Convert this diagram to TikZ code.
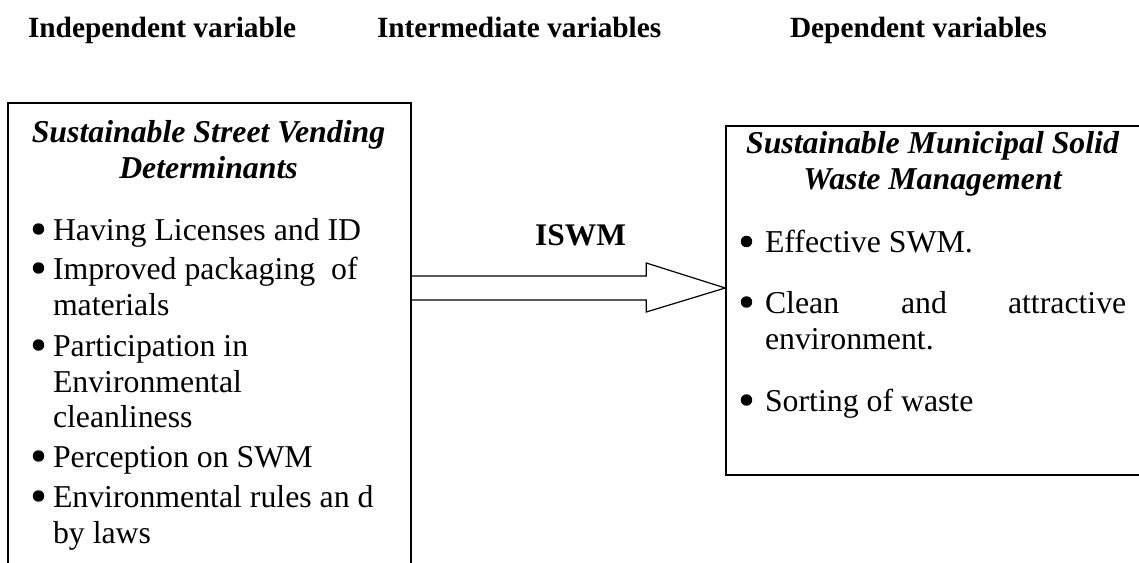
\documentclass[tikz,border=0pt]{standalone}
\usepackage{fontspec}
\setmainfont{Liberation Serif}
\usetikzlibrary{fit,calc}
\begin{document}
\begin{tikzpicture}[x=0.75pt,y=-0.75pt,
  txt/.style={inner sep=0pt, outer sep=0pt, font=\fontsize{23.85pt}{28pt}\selectfont},
  head/.style={inner sep=0pt, outer sep=0pt, anchor=base west, font=\fontsize{22pt}{26pt}\selectfont\bfseries},
  boxtitle/.style={txt, anchor=base, font=\fontsize{23.85pt}{28pt}\selectfont\bfseries\itshape},
  itemtext/.style={txt, anchor=base west},
  dot/.style={circle, fill=black, inner sep=0pt, minimum size=8.6pt},
  varbox/.style={draw, line width=1.1pt, inner sep=0pt},
  blockarrow/.style={draw, line width=0.9pt, line join=miter}]
\useasboundingbox (0,0) rectangle (1139,563);
\clip (0,0) rectangle (1139,563);

% column headings
\node[head] (h1) at (28,38) {Independent variable};
\node[head] (h2) at (377,38) {Intermediate variables};
\node[head] (h3) at (790,38) {Dependent variables};

% boxes
\coordinate (lbA) at (8,103);
\coordinate (lbB) at (411,580);
\coordinate (rbA) at (726,126);
\coordinate (rbB) at (1160,475);
\node[varbox, fit=(lbA) (lbB)] (lbox) {};
\node[varbox, fit=(rbA) (rbB)] (rbox) {};

% left box
\node[boxtitle] (lt1) at (208.5,143) {Sustainable Street Vending};
\node[boxtitle] (lt2) at (208.5,179) {Determinants};

\node[dot] (lb1) at (38.5,229) {};
\node[itemtext] (l1) at (53,240) {Having Licenses and ID};
\node[dot] (lb2) at (38.5,268) {};
\node[itemtext] (l2) at (53,279) {Improved packaging\ \ of};
\node[itemtext] (l3) at (53,315) {materials};
\node[dot] (lb3) at (38.5,345) {};
\node[itemtext] (l4) at (53,356) {Participation in};
\node[itemtext] (l5) at (53,392) {Environmental};
\node[itemtext] (l6) at (53,427) {cleanliness};
\node[dot] (lb4) at (38.5,456) {};
\node[itemtext] (l7) at (53,467) {Perception on SWM};
\node[dot] (lb5) at (38.5,496) {};
\node[itemtext] (l8) at (53,507) {Environmental rules an d};
\node[itemtext] (l9) at (53,543) {by laws};

% right box
\node[boxtitle] (rt1) at (932.5,154) {Sustainable Municipal Solid};
\node[boxtitle] (rt2) at (932.5,190) {Waste Management};

\node[dot] (rb1) at (746.5,241.5) {};
\node[itemtext] (r1) at (765,252.7) {Effective SWM.};
\node[dot] (rb2) at (746.5,302) {};
\node[itemtext] (r2a) at (765,313) {Clean};
\node[itemtext] (r2b) at (901,313) {and};
\node[itemtext] (r2c) at (1008,313) {attractive};
\node[itemtext] (r3) at (765,349) {environment.};
\node[dot] (rb3) at (746.5,400) {};
\node[itemtext] (r4) at (765,411) {Sorting of waste};

% block arrow
\node[txt, anchor=base, font=\fontsize{23.6pt}{28pt}\selectfont\bfseries] (iswm) at (580.5,246) {ISWM};
\coordinate (ay) at (0,288);
\coordinate (tip) at (rbox.west |- ay);
\coordinate (tail) at (lbox.east |- ay);
\draw[blockarrow] ($(tail)+(0,-12)$) -- ($(tip)+(-79,-12)$) -- ($(tip)+(-79,-25)$)
  -- (tip) -- ($(tip)+(-79,24)$) -- ($(tip)+(-79,12)$) -- ($(tail)+(0,12)$);
\end{tikzpicture}
\end{document}
